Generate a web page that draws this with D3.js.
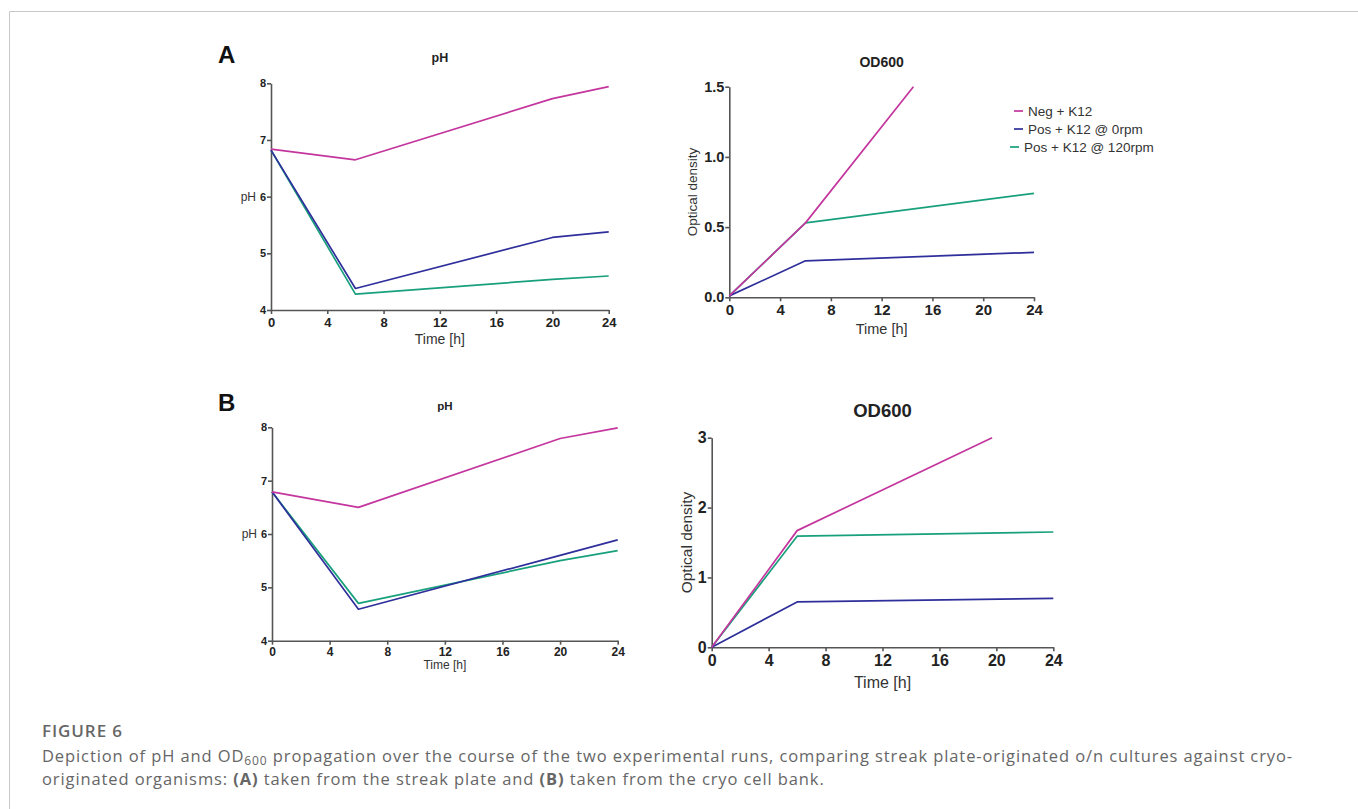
<!DOCTYPE html>
<html>
<head>
<meta charset="utf-8">
<script src="https://cdnjs.cloudflare.com/ajax/libs/d3/7.8.5/d3.min.js"></script>
<style>
  body { margin: 0; background: #fff; }
  svg { display: block; }
</style>
</head>
<body>
<script>
// series names and colours (same in all four panels)
const seriesNames = ["Neg + K12", "Pos + K12 @ 0rpm", "Pos + K12 @ 120rpm"];
const seriesColors = ["#c4369e", "#2f2f9c", "#18a07c"];

// time points
const phTimes = [0, 6, 20, 24];
const odTimes = [0, 6, 24];

// panel A (streak plate)
const phNegA = [6.84, 6.65, 7.73, 7.94];
const phPos0A = [6.82, 4.38, 5.28, 5.38];
const phPos120A = [6.82, 4.28, 4.54, 4.60];
const odNegTimesA = [0, 6, 14.5]; // line runs off the top of the axis here
const odNegA = [0.01, 0.53, 1.5];
const odPos0A = [0.01, 0.26, 0.32];
const odPos120A = [0.01, 0.53, 0.74];

// panel B (cryo cell bank)
const phNegB = [6.79, 6.50, 7.79, 7.99];
const phPos0B = [6.79, 4.59, 5.60, 5.89];
const phPos120B = [6.79, 4.70, 5.50, 5.69];
const odNegTimesB = [0, 6, 19.7];
const odNegB = [0.0, 1.67, 3.0];
const odPos0B = [0.0, 0.65, 0.70];
const odPos120B = [0.0, 1.59, 1.65];

// tick values
const timeTicks = [0, 4, 8, 12, 16, 20, 24];
const phTicks = [4, 5, 6, 7, 8];
const odTicksA = [0, 0.5, 1.0, 1.5];
const odTicksB = [0, 1, 2, 3];

const W = 1358, H = 809;
const chartFont = "'Liberation Sans', Arial, sans-serif";
const axisColor = "#555";

const svg = d3.select("body").append("svg")
    .attr("width", W)
    .attr("height", H);

// thin frame at top and left
svg.append("path")
    .attr("d", "M9.5,809V11.5H1358")
    .attr("fill", "none")
    .attr("stroke", "#c8c8c8")
    .attr("stroke-width", 1);

function pairs(times, values) {
  return times.map((t, i) => [t, values[i]]);
}

function drawPanel(p) {
  const x = d3.scaleLinear().domain([0, 24]).range([p.x0, p.x1]);
  const y = d3.scaleLinear().domain(p.yDomain).range([p.y0, p.y1]);
  const g = svg.append("g").style("font-family", chartFont);

  // x axis
  const xAxis = g.append("g")
      .attr("transform", `translate(0,${p.y0})`)
      .call(d3.axisBottom(x).tickValues(timeTicks).tickSize(4).tickSizeOuter(0).tickPadding(p.xPad));
  xAxis.selectAll("text")
      .style("font-size", p.xTickSize + "px")
      .style("font-weight", "bold")
      .attr("fill", "#222");

  // y axis
  const yAxis = g.append("g")
      .attr("transform", `translate(${p.x0},0)`)
      .call(d3.axisLeft(y).tickValues(p.yTicks).tickFormat(p.yFormat).tickSize(4).tickSizeOuter(0).tickPadding(1));
  yAxis.selectAll("text")
      .style("font-size", p.yTickSize + "px")
      .style("font-weight", "bold")
      .attr("fill", "#222");

  g.selectAll(".domain, .tick line")
      .attr("stroke", axisColor)
      .attr("stroke-width", 1.6);

  // lines, green first so blue and magenta sit on top
  const line = d3.line().x(d => x(d[0])).y(d => y(d[1]));
  [2, 1, 0].forEach(i => {
    g.append("path")
        .datum(p.series[i])
        .attr("d", line)
        .attr("fill", "none")
        .attr("stroke", seriesColors[i])
        .attr("stroke-width", 1.7)
        .attr("stroke-linejoin", "round");
  });

  // title
  g.append("text")
      .attr("x", (p.x0 + p.x1) / 2)
      .attr("y", p.titleY)
      .attr("text-anchor", "middle")
      .style("font-size", p.titleSize + "px")
      .style("font-weight", "bold")
      .attr("fill", "#222")
      .text(p.title);

  // x label
  g.append("text")
      .attr("x", (p.x0 + p.x1) / 2)
      .attr("y", p.xLabelY)
      .attr("text-anchor", "middle")
      .style("font-size", p.xLabelSize + "px")
      .attr("fill", "#333")
      .text("Time [h]");

  // y label: pH panels have it flat next to the 6, OD panels rotated
  if (p.flatLabel) {
    g.append("text")
        .attr("x", p.x0 - 15)
        .attr("y", y(6) + 4)
        .attr("text-anchor", "end")
        .style("font-size", "12px")
        .attr("fill", "#333")
        .text("pH");
  } else {
    g.append("text")
        .attr("transform", `translate(${p.yLabelX},${(p.y0 + p.y1) / 2}) rotate(-90)`)
        .attr("text-anchor", "middle")
        .style("font-size", p.yLabelSize + "px")
        .attr("fill", "#333")
        .text("Optical density");
  }

  // panel letter
  if (p.letter) {
    g.append("text")
        .attr("x", 218)
        .attr("y", p.letterY)
        .style("font-size", "24px")
        .style("font-weight", "bold")
        .attr("fill", "#111")
        .text(p.letter);
  }
  return g;
}

// A: pH
drawPanel({
  x0: 271, x1: 608.7, y0: 310, y1: 83.3, yDomain: [4, 8],
  yTicks: phTicks, yFormat: d3.format("d"),
  xTickSize: 13, yTickSize: 11, xPad: 4,
  title: "pH", titleY: 62, titleSize: 12.5,
  xLabelY: 344, xLabelSize: 14, flatLabel: true,
  letter: "A", letterY: 63,
  series: [pairs(phTimes, phNegA), pairs(phTimes, phPos0A), pairs(phTimes, phPos120A)]
});

// A: OD600 (with legend)
const odA = drawPanel({
  x0: 729.3, x1: 1034, y0: 297.3, y1: 86.7, yDomain: [0, 1.5],
  yTicks: odTicksA, yFormat: d3.format(".1f"),
  xTickSize: 15, yTickSize: 14.5, xPad: 3,
  title: "OD600", titleY: 67, titleSize: 14,
  xLabelY: 334, xLabelSize: 14.5, flatLabel: false, yLabelX: 697, yLabelSize: 13.5,
  series: [pairs(odNegTimesA, odNegA), pairs(odTimes, odPos0A), pairs(odTimes, odPos120A)]
});

const legend = odA.selectAll(".legend")
    .data(seriesNames)
    .enter().append("g")
    .attr("class", "legend")
    .attr("transform", (d, i) => `translate(${i === 2 ? 1010 : 1014},${111 + 18 * i})`);
legend.append("line")
    .attr("x1", 0).attr("x2", 9)
    .attr("stroke", (d, i) => seriesColors[i])
    .attr("stroke-width", 1.7);
legend.append("text")
    .attr("x", 14)
    .attr("y", 4.5)
    .style("font-size", "13.5px")
    .attr("fill", "#333")
    .text(d => d);

// B: pH
drawPanel({
  x0: 272, x1: 617.7, y0: 640.7, y1: 427.3, yDomain: [4, 8],
  yTicks: phTicks, yFormat: d3.format("d"),
  xTickSize: 12, yTickSize: 11, xPad: 3,
  title: "pH", titleY: 410, titleSize: 11.5,
  xLabelY: 669, xLabelSize: 12, flatLabel: true,
  letter: "B", letterY: 411,
  series: [pairs(phTimes, phNegB), pairs(phTimes, phPos0B), pairs(phTimes, phPos120B)]
});

// B: OD600
drawPanel({
  x0: 711.7, x1: 1053.3, y0: 647.3, y1: 437.7, yDomain: [0, 3],
  yTicks: odTicksB, yFormat: d3.format("d"),
  xTickSize: 16, yTickSize: 16, xPad: 3,
  title: "OD600", titleY: 417, titleSize: 18.5,
  xLabelY: 688, xLabelSize: 16, flatLabel: false, yLabelX: 692, yLabelSize: 15.5,
  series: [pairs(odNegTimesB, odNegB), pairs(odTimes, odPos0B), pairs(odTimes, odPos120B)]
});

// caption
const cap = svg.append("g")
    .style("font-family", "'Open Sans', 'Noto Sans', sans-serif")
    .attr("fill", "#666");

const fig = cap.append("text")
    .attr("x", 42).attr("y", 737)
    .style("font-size", "17px")
    .style("font-weight", 600)
    .text("FIGURE 6");

const line1 = cap.append("text").attr("x", 42).attr("y", 762).style("font-size", "16.5px");
line1.append("tspan").text("Depiction of pH and OD");
line1.append("tspan").attr("dy", 3).style("font-size", "12px").text("600");
line1.append("tspan").attr("dy", -3)
    .text(" propagation over the course of the two experimental runs, comparing streak plate-originated o/n cultures against cryo-");

const line2 = cap.append("text").attr("x", 42).attr("y", 785).style("font-size", "16.5px");
line2.append("tspan").text("originated organisms: ");
line2.append("tspan").style("font-weight", "bold").text("(A)");
line2.append("tspan").text(" taken from the streak plate and ");
line2.append("tspan").style("font-weight", "bold").text("(B)");
line2.append("tspan").text(" taken from the cryo cell bank.");

// the original caption font runs wider, so stretch the spacing to its line width
const nChars = line1.text().length;
const spacing = (1251 - line1.node().getComputedTextLength()) / nChars;
line1.style("letter-spacing", spacing + "px");
line2.style("letter-spacing", spacing + "px");
fig.style("letter-spacing", ((81 - fig.node().getComputedTextLength()) / 8) + "px");
</script>
</body>
</html>
